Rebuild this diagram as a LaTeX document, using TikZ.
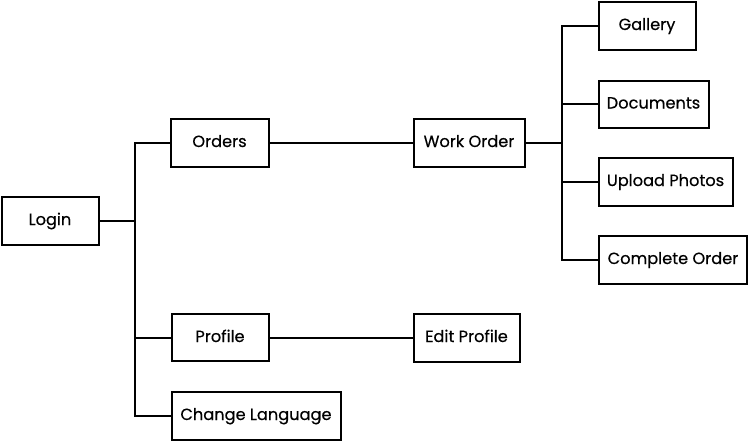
\documentclass[tikz,border=0pt]{standalone}
\usepackage{fontspec}
\setmainfont{Poppins}
\newfontface\boxfont{Poppins}[FakeBold=0.4]
\begin{document}
\begin{tikzpicture}[x=1pt,y=-1pt,
  box/.style={draw=black,line width=2pt,fill=white,rectangle,inner sep=0pt,
    text height=11pt,text depth=2pt,
    font=\boxfont\fontsize{16.2}{19}\selectfont},
  link/.style={draw=black,line width=2pt}]
\useasboundingbox (0,0) rectangle (749,442);
\node[box,minimum width=97pt,minimum height=48pt] (login) at (50,220.5) {Login};
\node[box,minimum width=98pt,minimum height=48pt] (orders) at (219.5,142.5) {Orders};
\node[box,minimum width=111pt,minimum height=48pt] (work) at (469,142.5) {Work Order};
\node[box,minimum width=97pt,minimum height=48pt] (gallery) at (647,25.5) {Gallery};
\node[box,minimum width=110pt,minimum height=47pt] (docs) at (653.5,104) {Documents};
\node[box,minimum width=134pt,minimum height=48pt] (upload) at (665.5,181.5) {Upload Photos};
\node[box,minimum width=148pt,minimum height=48pt] (complete) at (673,259.5) {Complete Order};
\node[box,minimum width=97pt,minimum height=47pt] (profile) at (220,337.5) {Profile};
\node[box,minimum width=106pt,minimum height=48pt] (edit) at (466.5,337.5) {Edit Profile};
\node[box,minimum width=169pt,minimum height=48pt] (lang) at (256,415.5) {Change Language};
\coordinate (t1) at (135,220.5);
\coordinate (t2) at (562,142.5);
\draw[link] (login.east) -- (t1);
\draw[link] (t1) |- (orders.west);
\draw[link] (t1) |- (profile.west);
\draw[link] (t1) |- (lang.west);
\draw[link] (orders.east) -- (work.west);
\draw[link] (profile.east) -- (edit.west);
\draw[link] (work.east) -- (t2);
\draw[link] (t2) |- (gallery.west);
\draw[link] (t2) |- (docs.west);
\draw[link] (t2) |- (upload.west);
\draw[link] (t2) |- (complete.west);
\end{tikzpicture}
\end{document}
